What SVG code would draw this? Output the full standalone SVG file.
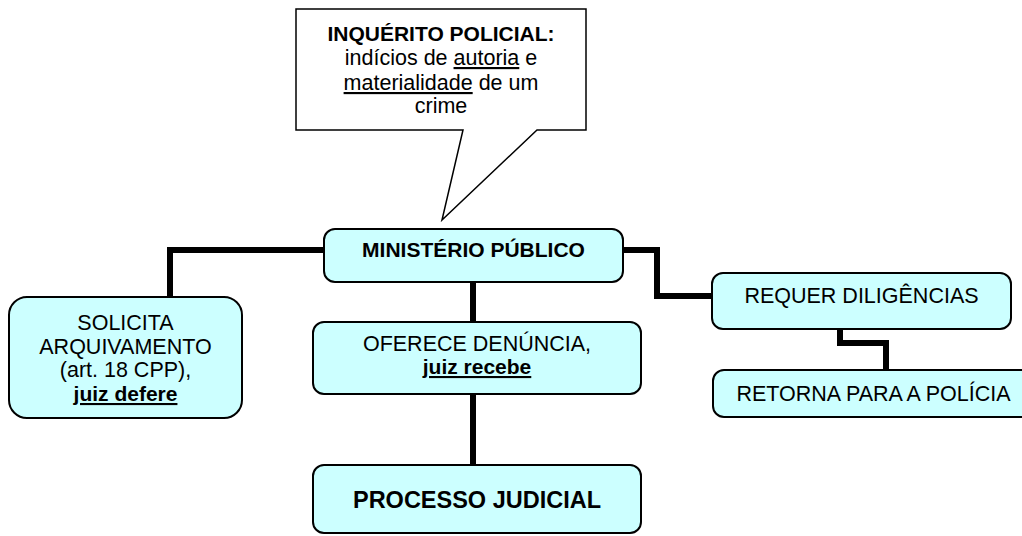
<svg xmlns="http://www.w3.org/2000/svg" width="1022" height="536" viewBox="0 0 1022 536">
  <style>
    .box { fill: #CCFFFF; stroke: #000; stroke-width: 2; }
    .conn { fill: none; stroke: #000; stroke-width: 6; stroke-linejoin: miter; }
    text { font-family: "Liberation Sans", Arial, sans-serif; fill: #000; text-anchor: middle; }
    .r { font-size: 21.5px; }
    .b { font-size: 21px; font-weight: bold; }
    .big { font-size: 23.5px; font-weight: bold; }
    .u { text-decoration: underline; }
  </style>
  <rect width="1022" height="536" fill="#fff"/>
  <g id="connectors">
    <path class="conn" d="M324,250 H170 V297"/>
    <path class="conn" d="M473,282 V322"/>
    <path class="conn" d="M473,394 V465"/>
    <path class="conn" d="M623,250 H657 V296 H712"/>
    <path class="conn" d="M840,329 V343 H886 V370"/>
  </g>
  <g id="inquerito">
    <path d="M296,9 H586 V130 H537 L442,220 L463,130 H296 Z" fill="#fff" stroke="#000" stroke-width="1.5"/>
    <text class="b" x="441" y="41">INQUÉRITO POLICIAL:</text>
    <text class="r" x="441" y="65">indícios de <tspan class="u">autoria</tspan> e</text>
    <text class="r" x="441" y="90"><tspan class="u">materialidade</tspan> de um</text>
    <text class="r" x="441" y="113">crime</text>
  </g>
  <g id="ministerio">
    <rect class="box" x="324" y="229" width="299" height="53" rx="11"/>
    <text class="b" x="473.5" y="257">MINISTÉRIO PÚBLICO</text>
  </g>
  <g id="solicita">
    <rect class="box" x="9" y="297" width="233" height="121" rx="18"/>
    <text class="r" x="125.5" y="330">SOLICITA</text>
    <text class="r" x="125.5" y="354">ARQUIVAMENTO</text>
    <text class="r" x="125.5" y="377">(art. 18 CPP),</text>
    <text class="b u" x="125.5" y="401">juiz defere</text>
  </g>
  <g id="oferece">
    <rect class="box" x="313" y="322" width="328" height="72" rx="11"/>
    <text class="r" x="477" y="351">OFERECE DENÚNCIA,</text>
    <text class="b u" x="477" y="374">juiz recebe</text>
  </g>
  <g id="processo">
    <rect class="box" x="313" y="465" width="328" height="68" rx="11"/>
    <text class="big" x="477" y="508">PROCESSO JUDICIAL</text>
  </g>
  <g id="requer">
    <rect class="box" x="712" y="273" width="299" height="56" rx="11"/>
    <text class="r" x="861.5" y="303">REQUER DILIGÊNCIAS</text>
  </g>
  <g id="retorna">
    <rect class="box" x="713" y="370" width="320" height="47" rx="11"/>
    <text class="r" x="873.5" y="401">RETORNA PARA A POLÍCIA</text>
  </g>
</svg>
